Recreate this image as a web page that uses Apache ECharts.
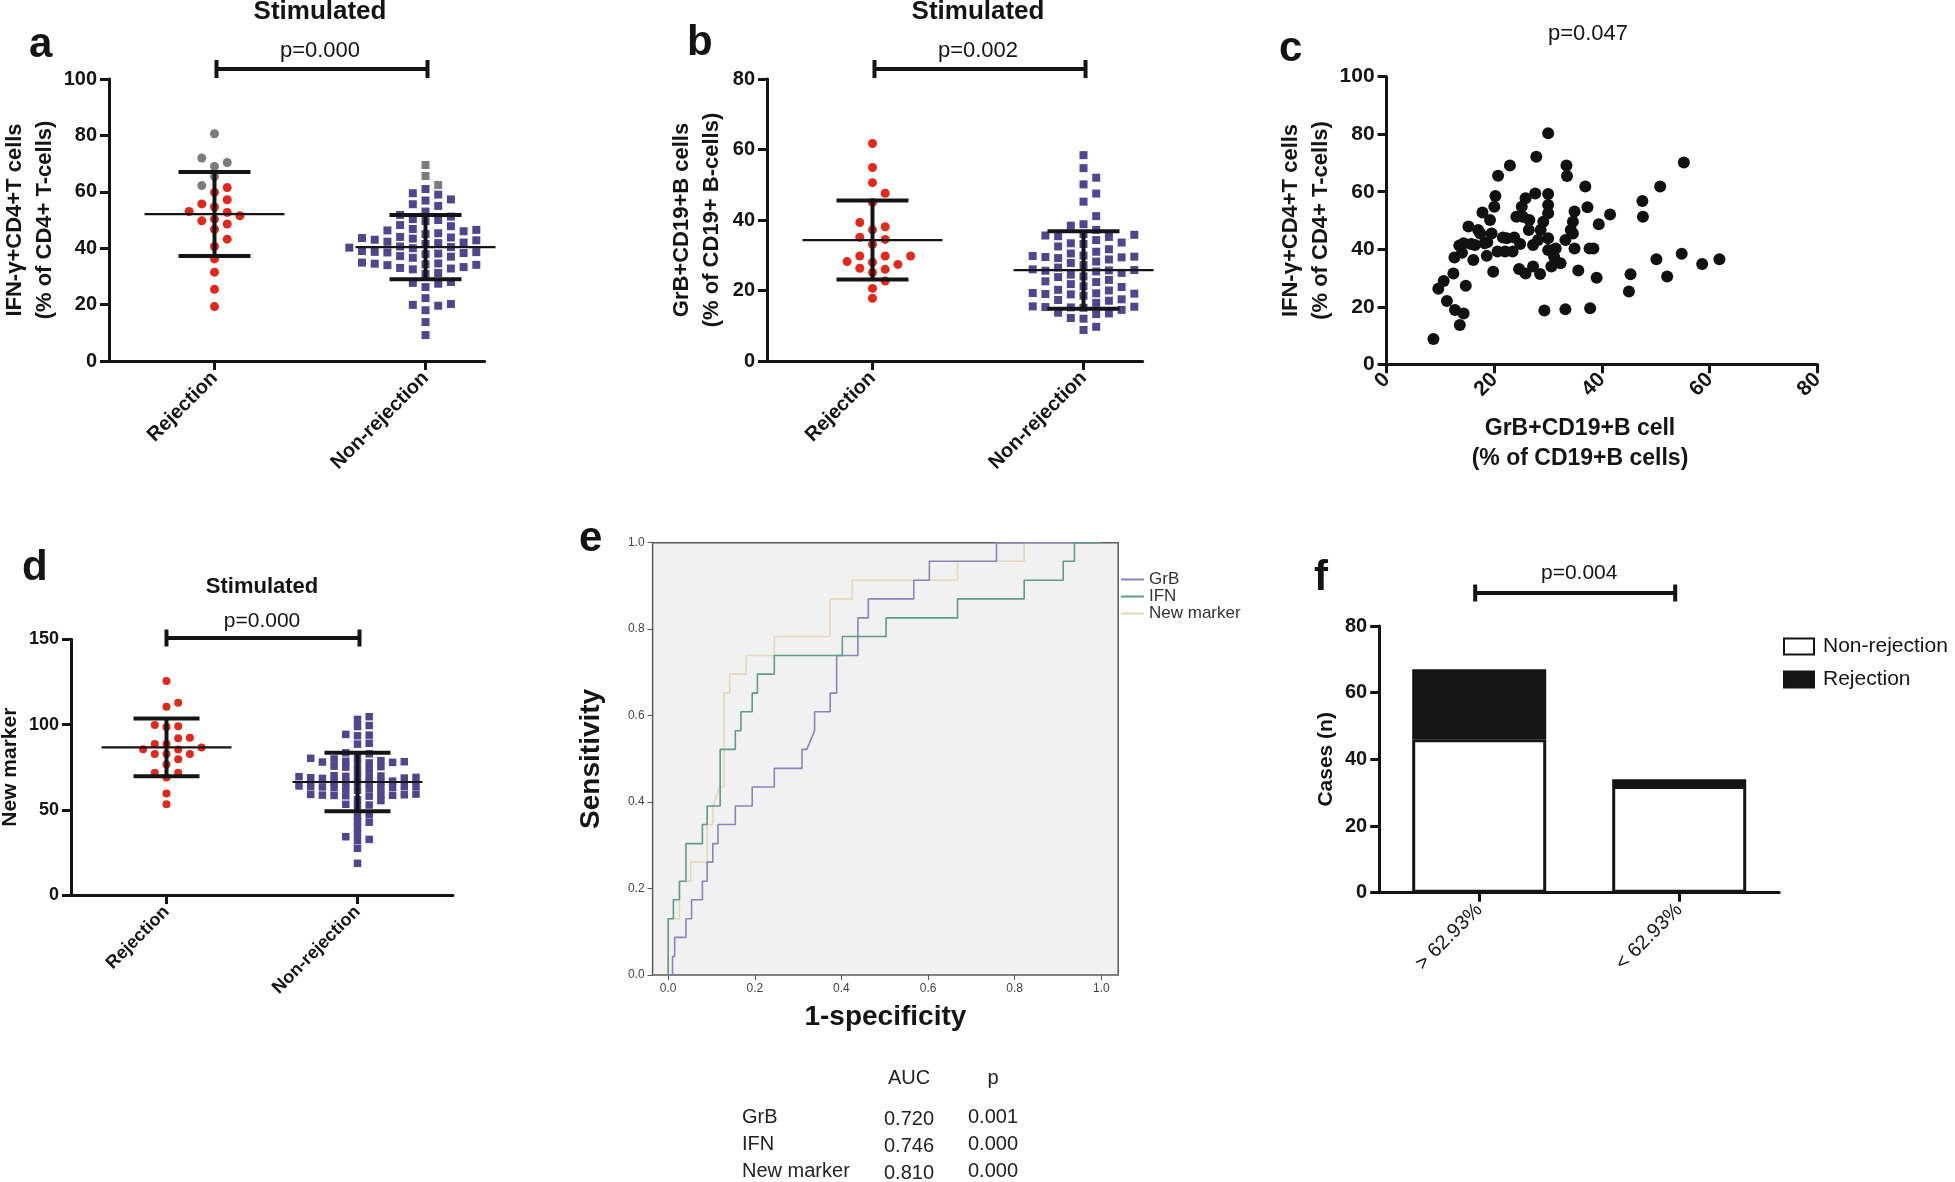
<!DOCTYPE html>
<html><head><meta charset="utf-8">
<script src="https://cdn.jsdelivr.net/npm/echarts@6/dist/echarts.min.js"></script>
<style>html,body{margin:0;padding:0;background:#fff}#c{width:1955px;height:1182px}</style>
</head><body><div id="c"></div>
<script>
// ================= DATA =================
const groupCats = ['Rejection', 'Non-rejection'];
// (a) IFN-γ+CD4+ T cells, stimulated
const ifnRejRed = [61.5, 59.8, 57.2, 55.7, 54.6, 53.0, 52.7, 51.5, 50.3, 49.7, 48.6, 46.7, 43.2, 40.6, 36.2, 31.5, 25.4, 19.3];
const ifnRejGray = [80.6, 72, 70.4, 69, 65.4, 62.2];
const ifnNonRej = [61, 59.5, 59, 57.3, 56.9, 55.6, 55, 53, 51.8, 51.2, 50.3, 50, 49.6, 48.2, 47.8, 46.8, 46.5, 46.3, 46, 45.3,
  45, 44.7, 44, 43.8, 43.6, 43.4, 43.2, 43, 42.8, 42.3, 42, 41.8, 41.5, 40.8, 40.6, 40.4, 40.2, 40, 39.8, 39,
  38.9, 38.7, 38.6, 38.5, 38.3, 38.1, 37.9, 37.2, 37, 36.6, 35, 34.9, 34.7, 34.6, 34.5, 34.3, 34.1, 34, 33.3, 33,
  32.8, 32.5, 31.2, 30.8, 28, 27.7, 27.4, 26.2, 22.3, 20.2, 19.9, 19.6, 18, 13.8, 9.2];
const ifnNonRejGray = [69.5, 65.6, 62.4];
const ifnMean = [52.1, 40.4];
const ifnSD = [14.9, 11.4];
// (b) GrB+CD19+ B cells, stimulated
const grbRej = [61.7, 54.9, 50.6, 47.6, 45, 39.3, 38.1, 37.2, 35.1, 34.5, 33.1, 29.8, 29.8, 29.8, 28.2, 28, 27.4, 26.3, 26, 25.1, 22.7, 20.6, 17.8];
const grbNonRej = [58.4, 54.7, 52, 50.1, 47.5, 45.2, 41.1, 38.8, 38.4, 37.2, 36, 35.8, 35.6, 35.4, 35.2, 34.3, 33.6, 33.4, 33.2, 32.5,
  31.7, 31.3, 31, 30.5, 29.9, 29.8, 29.6, 29.5, 29.4, 29.2, 28.8, 28.2, 27.8, 27.2, 26.5, 26.1, 26, 25.8, 25.7, 25.6,
  25.4, 25, 24.5, 24, 23.8, 23, 22.6, 22.4, 21.8, 21.2, 21, 20.2, 20, 19.5, 19.3, 19.2, 19.1, 19, 18.9, 18.5,
  17.5, 17.3, 17.1, 16.5, 15.6, 15.5, 15.4, 15.3, 15.2, 15.1, 14.5, 13.7, 13.5, 13.3, 12.2, 12, 9.7, 8.8];
const grbMean = [34.3, 25.8];
const grbSD = [11.2, 11.0];
// (c) correlation: GrB+CD19+ B (x) vs IFN-γ+CD4+ T (y)
const corrGrB = [8.7, 9.6, 10.6, 11.2, 12.4, 12.6, 12.7, 13.6, 14.3, 14.7, 13.5, 14, 15.2, 16.1, 16.4, 14.3, 17, 17.8, 18.2, 18.6,
  19.2, 19.5, 19.8, 20, 20.2, 20.6, 20.7, 22, 21.6, 22.9, 23.4, 24.1, 23.7, 24.6, 24.8, 25.1, 25.8, 25.8, 26.5, 27.6,
  27.2, 27.8, 28.1, 28.5, 29.3, 29.1, 30, 30, 30, 30, 30, 30, 30.6, 31.1, 32.3, 33.2, 33.4, 33.5, 33.2, 34.2,
  34.6, 34.9, 34.9, 35.6, 36.9, 37.3, 37.7, 37.8, 38.4, 39, 39.4, 41.5, 45.3, 45, 47.5, 47.6, 50.1, 50.8, 52.1, 54.8,
  55.2, 58.6, 61.8, 17.4, 18.7, 22.3, 27.2, 26.4, 31.4, 28.6, 34.6, 25.3, 15.7];
const corrIFN = [8.8, 26.3, 29, 22, 31.6, 37.1, 18.9, 13.7, 17.7, 27.3, 41.3, 38.8, 47.9, 36.3, 41.5, 42.1, 46.7, 52.8, 42.1, 37.7,
  50.2, 45.5, 32.2, 54.8, 58.5, 39.2, 65.6, 39.2, 44.1, 69.1, 39.2, 51.3, 44.1, 33.1, 41.8, 54.8, 57.7, 31.6, 50.2, 59.4,
  34, 72.2, 43.2, 31.4, 18.7, 49.6, 80.3, 59.2, 55.4, 52.5, 43.8, 39.7, 34, 37.4, 35.1, 19.1, 69.1, 65.5, 43.2, 46.7,
  49.6, 53.1, 40.3, 32.6, 61.8, 54.6, 40.3, 19.5, 40.3, 30.1, 48.7, 52.1, 31.3, 25.3, 56.8, 51.3, 36.5, 61.8, 30.5, 38.4,
  70.2, 34.9, 36.5, 45.5, 42.4, 43.8, 41.5, 46.7, 40.3, 46.7, 45.5, 51.3, 41.8];
// (d) New marker, stimulated
const newRej = [125.5, 112.8, 110.4, 99.7, 99, 98.5, 92.3, 92, 88.6, 88.6, 86.6, 85.5, 85.4, 82.7, 82.7, 82.7, 79.6, 76.6, 71.7, 71.7, 69, 59.6, 53.2];
const newNonRej = [104.6, 103, 99.4, 98.8, 94.2, 93.8, 93.4, 89, 88.5, 83.4, 82.8, 80.6, 80.2, 79.8, 78.8, 78.5, 78.2, 78, 77.8, 77.5,
  77.2, 75.6, 75.3, 75, 73.6, 73, 70, 69.8, 69.6, 69.4, 69.3, 69.2, 69, 68.8, 68.6, 68.4, 66.8, 66.6, 66.4, 66.2,
  66, 65.8, 64, 63.8, 63.6, 63.5, 63.4, 63.2, 63, 62.8, 62.6, 62.4, 61.5, 59.2, 59, 58.8, 58.7, 58.6, 58.5, 58.4,
  58.2, 58, 56, 55.4, 53.2, 52.8, 52.4, 47.2, 46.6, 43.3, 42.7, 39.7, 36.2, 34.2, 32.6, 32, 27.4, 18.6];
const newMean = [86.6, 66.3];
const newSD = [16.9, 17.2];
// (e) ROC curves: [1-specificity, sensitivity]
const rocGrB = [[0,0],[0.01,0],[0.01,0.043],[0.015,0.043],[0.015,0.087],[0.041,0.087],[0.041,0.13],[0.054,0.13],[0.054,0.174],
  [0.079,0.174],[0.079,0.217],[0.09,0.217],[0.09,0.261],[0.103,0.261],[0.103,0.304],[0.115,0.304],[0.115,0.348],[0.155,0.348],
  [0.155,0.391],[0.194,0.391],[0.194,0.435],[0.245,0.435],[0.245,0.478],[0.309,0.478],[0.309,0.522],[0.32,0.522],[0.338,0.565],
  [0.338,0.609],[0.374,0.609],[0.374,0.652],[0.389,0.652],[0.389,0.739],[0.438,0.739],[0.438,0.826],[0.462,0.826],[0.462,0.87],
  [0.567,0.87],[0.567,0.913],[0.603,0.913],[0.603,0.957],[0.758,0.957],[0.758,1],[1,1]];
const rocIFN = [[0,0],[0,0.13],[0.012,0.13],[0.012,0.174],[0.026,0.174],[0.026,0.217],[0.041,0.217],[0.041,0.304],[0.079,0.304],
  [0.079,0.348],[0.09,0.348],[0.09,0.391],[0.12,0.391],[0.12,0.522],[0.155,0.522],[0.155,0.565],[0.168,0.565],[0.168,0.609],
  [0.194,0.609],[0.194,0.652],[0.206,0.652],[0.206,0.696],[0.245,0.696],[0.245,0.739],[0.402,0.739],[0.402,0.783],[0.503,0.783],
  [0.503,0.826],[0.668,0.826],[0.668,0.87],[0.822,0.87],[0.822,0.913],[0.912,0.913],[0.912,0.957],[0.938,0.957],[0.938,1],[1,1]];
const rocNew = [[0,0],[0,0.13],[0.026,0.13],[0.026,0.217],[0.052,0.217],[0.052,0.261],[0.09,0.261],[0.09,0.348],[0.103,0.348],
  [0.103,0.391],[0.119,0.435],[0.129,0.435],[0.129,0.652],[0.142,0.652],[0.142,0.696],[0.18,0.696],[0.18,0.739],[0.245,0.739],
  [0.245,0.783],[0.374,0.783],[0.374,0.87],[0.425,0.87],[0.425,0.913],[0.668,0.913],[0.668,0.957],[0.822,0.957],[0.822,1],[1,1]];
const rocNames = ['GrB', 'IFN', 'New marker'];
const aucValues = ['0.720', '0.746', '0.810'];
const aucP = ['0.001', '0.000', '0.000'];
const rocTicks = [0, 0.2, 0.4, 0.6, 0.8, 1.0];
// (f) cases by cut-off
const cutCats = ['> 62.93%', '< 62.93%'];
const cutNonRej = [46, 32];
const cutRej = [21, 2];
const pTexts = { a: 'p=0.000', b: 'p=0.002', c: 'p=0.047', d: 'p=0.000', f: 'p=0.004' };

// ================= LAYOUT / STYLE =================
const FONT = '"Liberation Sans", Arial, Helvetica, sans-serif';
const NARROW = '"Liberation Sans Narrow", "Arial Narrow", "Liberation Sans", Arial, sans-serif';
const INK = '#141414';
const RED = '#e2281b', PURPLE = '#52458e', GRAY = '#7c7c7c';
const G = {
  a: { left: 109, top: 79, width: 375.6, height: 282 },
  b: { left: 767, top: 79, width: 375.6, height: 282 },
  c: { left: 1386.6, top: 76.7, width: 430.8, height: 287.6 },
  d: { left: 71, top: 639.3, width: 382, height: 255.7 },
  e: { left: 652.6, top: 542.7, width: 465.6, height: 432.3 },
  f: { left: 1379.2, top: 626, width: 400, height: 266.7 }
};
const AX = {
  a: { xmin: 0.5, xmax: 2.28, ymax: 100 },
  b: { xmin: 0.5, xmax: 2.28, ymax: 80 },
  d: { xmin: 0.5, xmax: 2.5, ymax: 150 }
};

// beeswarm: offsets computed from values only (greedy column packing)
function swarm(vals, stepU, dyU) {
  const order = vals.map((v, i) => i).sort((i, j) => vals[i] - vals[j]);
  const cols = {};
  const out = new Array(vals.length).fill(0);
  for (const i of order) {
    const y = vals[i];
    for (let n = 0; n < 80; n++) {
      const k = n === 0 ? 0 : (n % 2 ? (n + 1) / 2 : -n / 2);
      const list = cols[k] || (cols[k] = []);
      if (list.every(v => Math.abs(v - y) >= dyU)) { list.push(y); out[i] = k * stepU; break; }
    }
  }
  return out;
}
function placeGroup(vals, cat, gk, colStepPx, dyPx) {
  const g = G[gk], ax = AX[gk];
  const pxX = g.width / (ax.xmax - ax.xmin), pxY = g.height / ax.ymax;
  const off = swarm(vals, colStepPx / pxX, dyPx / pxY);
  return vals.map((v, i) => [cat + off[i], v]);
}

function gridOf(k) { return Object.assign({ containLabel: false, outerBoundsMode: 'none' }, G[k]); }

function dotXAxis(gi, k, fs) {
  return {
    gridIndex: gi, type: 'value', min: AX[k].xmin, max: AX[k].xmax,
    axisLine: { show: true, onZero: false, lineStyle: { color: INK, width: 3 } },
    axisTick: { show: true, customValues: [1, 2], length: 9, lineStyle: { color: INK, width: 3 } },
    axisLabel: { show: true, customValues: [1, 2], formatter: v => groupCats[Math.round(v) - 1], rotate: 45, margin: 14,
      fontFamily: FONT, fontWeight: 'bold', fontSize: fs, color: INK },
    splitLine: { show: false }
  };
}
function yAx(gi, max, interval, fs, name, gap, nameFs, font, extra) {
  return Object.assign({
    gridIndex: gi, type: 'value', min: 0, max: max, interval: interval,
    axisLine: { show: true, onZero: false, lineStyle: { color: INK, width: 3 } },
    axisTick: { show: true, length: 9, lineStyle: { color: INK, width: 3 } },
    axisLabel: { fontFamily: font || FONT, fontWeight: 'bold', fontSize: fs, color: INK, margin: 12 },
    splitLine: { show: false },
    name: name, nameLocation: 'middle', nameRotate: 90, nameGap: gap,
    nameTextStyle: { fontFamily: FONT, fontWeight: 'bold', fontSize: nameFs, color: INK, lineHeight: 30 }
  }, extra || {});
}

function errBars(gi, means, sds, halfMean, halfCap) {
  return {
    type: 'custom', xAxisIndex: gi, yAxisIndex: gi, z: 5, silent: true, clip: false,
    data: means.map((m, i) => [i + 1, m, sds[i]]),
    renderItem: function (params, api) {
      const x = api.value(0), m = api.value(1), s = api.value(2);
      const c = api.coord([x, m]), t = api.coord([x, m + s]), b = api.coord([x, m - s]);
      const st = w => ({ stroke: INK, lineWidth: w });
      return { type: 'group', children: [
        { type: 'line', shape: { x1: c[0] - halfMean, y1: c[1], x2: c[0] + halfMean, y2: c[1] }, style: st(2.2) },
        { type: 'line', shape: { x1: c[0], y1: t[1], x2: c[0], y2: b[1] }, style: st(4) },
        { type: 'line', shape: { x1: c[0] - halfCap, y1: t[1], x2: c[0] + halfCap, y2: t[1] }, style: st(4) },
        { type: 'line', shape: { x1: c[0] - halfCap, y1: b[1], x2: c[0] + halfCap, y2: b[1] }, style: st(4) }
      ] };
    }
  };
}
function scat(gi, data, color, symbol, size, name) {
  return { type: 'scatter', name: name, xAxisIndex: gi, yAxisIndex: gi, data: data, symbol: symbol, symbolSize: size,
    itemStyle: { color: color, opacity: 1 }, silent: true, z: 2 };
}

// swarm placement
const aRejAll = ifnRejRed.concat(ifnRejGray);
const aRejPts = placeGroup(aRejAll, 1, 'a', 12.7, 9.5);
const aNonAll = ifnNonRej.concat(ifnNonRejGray);
const aNonPts = placeGroup(aNonAll, 2, 'a', 12.7, 9.5);
const bRejPts = placeGroup(grbRej, 1, 'b', 12.7, 9.5);
const bNonPts = placeGroup(grbNonRej, 2, 'b', 12.7, 9.5);
const dRejPts = placeGroup(newRej, 1, 'd', 11.7, 7.5);
const dNonPts = placeGroup(newNonRej, 2, 'd', 11.7, 5.6);

const option = {
  backgroundColor: '#ffffff',
  animation: false,
  grid: ['a', 'b', 'c', 'd', 'e', 'f'].map(gridOf).map((g, i) => i === 4 ? Object.assign(g, { show: true, backgroundColor: '#f1f1f1', borderColor: '#5a5a5a', borderWidth: 1.5 }) : g),
  xAxis: [
    dotXAxis(0, 'a', 20),
    dotXAxis(1, 'b', 20),
    { gridIndex: 2, type: 'value', min: 0, max: 80, interval: 20,
      axisLine: { show: true, onZero: false, lineStyle: { color: INK, width: 3 } },
      axisTick: { show: true, length: 9, lineStyle: { color: INK, width: 3 } },
      axisLabel: { rotate: 45, margin: 12, fontFamily: FONT, fontWeight: 'bold', fontSize: 21, color: INK },
      splitLine: { show: false },
      name: 'GrB+CD19+B cell\n(% of CD19+B cells)', nameLocation: 'middle', nameGap: 49,
      nameTextStyle: { fontFamily: FONT, fontWeight: 'bold', fontSize: 23, color: INK, lineHeight: 30, padding: [0, 44, 0, 0] } },
    dotXAxis(3, 'd', 18),
    { gridIndex: 4, type: 'value', min: -0.036, max: 1.039,
      axisLine: { show: false, onZero: false },
      axisTick: { show: true, customValues: rocTicks, length: 5, lineStyle: { color: '#555', width: 1 } },
      axisLabel: { customValues: rocTicks, formatter: v => v.toFixed(1), margin: 8, fontFamily: NARROW, fontSize: 12, color: '#444' },
      splitLine: { show: false },
      name: '1-specificity', nameLocation: 'middle', nameGap: 27,
      nameTextStyle: { fontFamily: FONT, fontWeight: 'bold', fontSize: 28, color: INK, lineHeight: 30 } },
    { gridIndex: 5, type: 'category', data: cutCats,
      axisLine: { show: true, onZero: false, lineStyle: { color: INK, width: 3 } },
      axisTick: { show: true, alignWithLabel: true, length: 9, lineStyle: { color: INK, width: 3 } },
      axisLabel: { rotate: 45, margin: 14, fontFamily: NARROW, fontSize: 20, color: INK } }
  ],
  yAxis: [
    yAx(0, 100, 20, 20, 'IFN-γ+CD4+T cells\n(% of CD4+ T-cells)', 47, 22),
    yAx(1, 80, 20, 20, 'GrB+CD19+B cells\n(% of CD19+ B-cells)', 40, 22),
    yAx(2, 100, 20, 21, 'IFN-γ+CD4+T cells\n(% of CD4+ T-cells)', 50, 22),
    yAx(3, 150, 50, 18, 'New marker', 42, 21),
    yAx(4, 1, 0.2, 12, 'Sensitivity', 46, 28, NARROW, {
      axisLine: { show: false, onZero: false },
      axisTick: { show: true, length: 5, lineStyle: { color: '#555', width: 1 } },
      axisLabel: { formatter: v => v.toFixed(1), margin: 8, fontFamily: NARROW, fontSize: 12, color: '#444' } }),
    yAx(5, 80, 20, 20, 'Cases (n)', 34, 21, NARROW)
  ],
  legend: [
    { data: ['Non-rejection', 'Rejection'], orient: 'vertical', left: 1783, top: 636, padding: 0, itemGap: 12,
      itemWidth: 30, itemHeight: 16, icon: 'rect', selectedMode: false,
      textStyle: { fontFamily: NARROW, fontSize: 21, color: INK, lineHeight: 21, padding: [0, 0, 0, 4] } },
    { data: rocNames, orient: 'vertical', left: 1121, top: 571, padding: 0, itemGap: 0,
      itemWidth: 23, itemHeight: 2, icon: 'rect', selectedMode: false,
      textStyle: { fontFamily: NARROW, fontSize: 17, color: '#333', lineHeight: 17 } }
  ],
  series: [
    // a
    scat(0, aRejPts.slice(0, ifnRejRed.length), RED, 'circle', 9),
    scat(0, aRejPts.slice(ifnRejRed.length), GRAY, 'circle', 9),
    scat(0, aNonPts.slice(0, ifnNonRej.length), PURPLE, 'rect', 8),
    scat(0, aNonPts.slice(ifnNonRej.length), GRAY, 'rect', 8),
    errBars(0, ifnMean, ifnSD, 70, 36),
    // b
    scat(1, bRejPts, RED, 'circle', 9),
    scat(1, bNonPts, PURPLE, 'rect', 8),
    errBars(1, grbMean, grbSD, 70, 36),
    // c
    scat(2, corrGrB.map((x, i) => [x, corrIFN[i]]), '#111111', 'circle', 12),
    // d
    scat(3, dRejPts, RED, 'circle', 8),
    scat(3, dNonPts, PURPLE, 'rect', 7.5),
    errBars(3, newMean, newSD, 65, 33),
    // e
    { type: 'line', name: 'GrB', xAxisIndex: 4, yAxisIndex: 4, data: rocGrB, showSymbol: false, symbol: 'none', color: '#8884bd',
      lineStyle: { width: 1.6, color: '#8884bd' }, silent: true, z: 3 },
    { type: 'line', name: 'IFN', xAxisIndex: 4, yAxisIndex: 4, data: rocIFN, showSymbol: false, symbol: 'none', color: '#5c9d84',
      lineStyle: { width: 1.6, color: '#5c9d84' }, silent: true, z: 3 },
    { type: 'line', name: 'New marker', xAxisIndex: 4, yAxisIndex: 4, data: rocNew, showSymbol: false, symbol: 'none', color: '#e4d9b6',
      lineStyle: { width: 1.6, color: '#e4d9b6' }, silent: true, z: 2 },
    // f
    { type: 'bar', name: 'Non-rejection', xAxisIndex: 5, yAxisIndex: 5, stack: 'f', data: cutNonRej, barWidth: 134,
      itemStyle: { color: '#ffffff', borderColor: INK, borderWidth: 3 }, silent: true },
    { type: 'bar', name: 'Rejection', xAxisIndex: 5, yAxisIndex: 5, stack: 'f', data: cutRej, barWidth: 134,
      itemStyle: { color: '#161616', borderColor: INK, borderWidth: 3 }, silent: true }
  ]
};

const chart = echarts.init(document.getElementById('c'), null, { renderer: 'canvas', width: 1955, height: 1182 });
chart.setOption(option);

// ---- annotations (titles, panel letters, p-values, significance brackets, AUC table) ----
function catPx(gi, v) { return chart.convertToPixel({ xAxisIndex: gi }, v); }
function txt(x, y, text, size, opts) {
  opts = opts || {};
  return { type: 'text', x: x, y: y, silent: true, z: 10,
    style: { text: text, fill: opts.color || INK, align: opts.align || 'center', verticalAlign: 'middle',
      textAlign: opts.align || 'center', textVerticalAlign: 'middle',
      font: (opts.bold ? 'bold ' : '') + size + 'px ' + (opts.font || FONT) } };
}
function bracket(x1, x2, y, h) {
  const s = { stroke: INK, lineWidth: 4 };
  return [
    { type: 'line', silent: true, shape: { x1: x1, y1: y, x2: x2, y2: y }, style: s },
    { type: 'line', silent: true, shape: { x1: x1, y1: y - h, x2: x1, y2: y + h }, style: s },
    { type: 'line', silent: true, shape: { x1: x2, y1: y - h, x2: x2, y2: y + h }, style: s }
  ];
}
const g = [];
const LF = 42;
g.push(txt(29, 45, 'a', LF, { bold: true, align: 'left' }));
g.push(txt(687, 43, 'b', LF, { bold: true, align: 'left' }));
g.push(txt(1279, 49, 'c', LF, { bold: true, align: 'left' }));
g.push(txt(22, 568, 'd', LF, { bold: true, align: 'left' }));
g.push(txt(579, 539, 'e', LF, { bold: true, align: 'left' }));
g.push(txt(1314, 578, 'f', LF, { bold: true, align: 'left' }));
g.push(txt(320, 12, 'Stimulated', 26, { bold: true }));
g.push(txt(978, 12, 'Stimulated', 26, { bold: true }));
g.push(txt(262, 587, 'Stimulated', 22, { bold: true }));
const aX1 = catPx(0, 1), aX2 = catPx(0, 2);
const bX1 = catPx(1, 1), bX2 = catPx(1, 2);
const dX1 = catPx(3, 1), dX2 = catPx(3, 2);
const fX1 = catPx(5, 0), fX2 = catPx(5, 1);
g.push(txt((aX1 + aX2) / 2, 51, pTexts.a, 22));
g.push(txt((bX1 + bX2) / 2, 51, pTexts.b, 22));
g.push(txt(1588, 34, pTexts.c, 22));
g.push(txt((dX1 + dX2) / 2, 621, pTexts.d, 21));
g.push(txt((fX1 + fX2) / 2, 573, pTexts.f, 21, { font: NARROW }));
g.push(...bracket(aX1 + 2, aX2 + 2, 69, 9));
g.push(...bracket(bX1 + 2, bX2 + 2, 69, 9));
g.push(...bracket(dX1, dX2 + 2, 638, 8.5));
g.push(...bracket(fX1 - 4, fX2 - 4, 593, 8.5));
// AUC table
g.push(txt(909, 1078, 'AUC', 20, { color: '#222' }));
g.push(txt(993, 1078, 'p', 20, { color: '#222' }));
rocNames.forEach((n, i) => {
  const y = 1117 + i * 27;
  g.push(txt(742, y, n, 20, { align: 'left', color: '#222' }));
  g.push(txt(909, y + 2, aucValues[i], 20, { color: '#222' }));
  g.push(txt(993, y, aucP[i], 20, { color: '#222' }));
});
chart.setOption({ graphic: { elements: g } });
</script>
</body></html>
